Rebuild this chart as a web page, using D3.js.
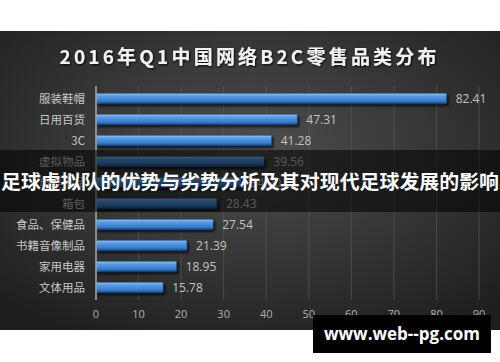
<!DOCTYPE html>
<html>
<head>
<meta charset="utf-8">
<script src="https://cdn.jsdelivr.net/npm/d3@7"></script>
<style>
  html, body { margin: 0; padding: 0; background: #fff; }
  svg { display: block; }
</style>
</head>
<body>
<svg id="chart"></svg>
<script>
const W = 500, H = 362;

const title = '2016年Q1中国网络B2C零售品类分布';
const categories = ['服装鞋帽', '日用百货', '3C', '虚拟物品', '母婴用品', '箱包', '食品、保健品', '书籍音像制品', '家用电器', '文体用品'];
const values = [82.41, 47.31, 41.28, 39.56, 34.2, 28.43, 27.54, 21.39, 18.95, 15.78];
const ticks = [0, 10, 20, 30, 40, 50, 60, 70, 80, 90];
const bannerText = '足球虚拟队的优势与劣势分析及其对现代足球发展的影响';
const watermark = 'www.web--pg.com';

const rows = categories.map((c, i) => ({ cat: c, val: values[i] }));

const svg = d3.select('#chart').attr('width', W).attr('height', H);
const defs = svg.append('defs');

// panel background
const bg = defs.append('radialGradient').attr('id', 'bg')
	.attr('cx', '0.5').attr('cy', '0.4').attr('r', '0.7');
bg.append('stop').attr('offset', '0%').attr('stop-color', '#4f4f4f');
bg.append('stop').attr('offset', '100%').attr('stop-color', '#1f1f1f');

const barGrad = defs.append('linearGradient').attr('id', 'bar')
	.attr('x1', 0).attr('y1', 0).attr('x2', 0).attr('y2', 1);
barGrad.append('stop').attr('offset', '0%').attr('stop-color', '#9cc8f4');
barGrad.append('stop').attr('offset', '25%').attr('stop-color', '#5a9ee6');
barGrad.append('stop').attr('offset', '70%').attr('stop-color', '#3b7fce');
barGrad.append('stop').attr('offset', '100%').attr('stop-color', '#1d4a86');

const shadow = defs.append('filter').attr('id', 'shadow')
	.attr('x', '-10%').attr('y', '-50%').attr('width', '130%').attr('height', '250%');
shadow.append('feDropShadow').attr('dx', 1.5).attr('dy', 2).attr('stdDeviation', 1.2)
	.attr('flood-color', '#000').attr('flood-opacity', 0.8);

const glow = defs.append('filter').attr('id', 'glow');
glow.append('feDropShadow').attr('dx', 1).attr('dy', 1).attr('stdDeviation', 1)
	.attr('flood-color', '#000').attr('flood-opacity', 0.9);

svg.append('rect')
	.attr('x', 0).attr('y', 31).attr('width', W).attr('height', 299)
	.attr('fill', 'url(#bg)');

svg.append('text')
	.attr('x', 248).attr('y', 64)
	.attr('text-anchor', 'middle')
	.attr('font-family', '"Noto Sans CJK SC", "Noto Sans", sans-serif')
	.attr('font-weight', 700)
	.attr('font-size', 19)
	.attr('textLength', 377)
	.attr('lengthAdjust', 'spacing')
	.attr('fill', '#f2f2f2')
	.attr('filter', 'url(#glow)')
	.text(title);

const x = d3.scaleLinear().domain([0, 90]).range([96, 479]);
const y = d3.scaleBand().domain(categories).range([88, 298]).paddingInner(0.5).paddingOuter(0.25);

// gridlines
svg.append('g').selectAll('line').data(ticks.slice(1)).join('line')
	.attr('x1', d => x(d)).attr('x2', d => x(d))
	.attr('y1', 86).attr('y2', 300)
	.attr('stroke', '#5e5e5e').attr('stroke-opacity', 0.6).attr('stroke-width', 1);

// bars
const bars = svg.append('g');
bars.selectAll('rect').data(rows).join('rect')
	.attr('x', x(0)).attr('y', d => y(d.cat))
	.attr('width', d => x(d.val) - x(0))
	.attr('height', y.bandwidth())
	.attr('rx', 1)
	.attr('fill', 'url(#bar)')
	.attr('stroke', '#1a3f70').attr('stroke-width', 0.6)
	.attr('filter', 'url(#shadow)');

// axis line
svg.append('line')
	.attr('x1', x(0)).attr('x2', x(0)).attr('y1', 86).attr('y2', 300)
	.attr('stroke', '#a8a8a8').attr('stroke-width', 1.5);

// category labels
svg.append('g').selectAll('text').data(rows).join('text')
	.attr('x', 85).attr('y', d => y(d.cat) + y.bandwidth() / 2)
	.attr('dy', '0.36em')
	.attr('text-anchor', 'end')
	.attr('font-family', '"Noto Sans CJK SC", sans-serif')
	.attr('font-size', 11.5)
	.attr('fill', '#c8c8c8')
	.text(d => d.cat);

// value labels
svg.append('g').selectAll('text').data(rows).join('text')
	.attr('x', d => x(d.val) + 9).attr('y', d => y(d.cat) + y.bandwidth() / 2)
	.attr('dy', '0.36em')
	.attr('font-family', '"Open Sans", "DejaVu Sans", sans-serif')
	.attr('font-size', 12)
	.attr('fill', '#c4c4c4')
	.text(d => d.val.toFixed(2));

// x tick labels
svg.append('g').selectAll('text').data(ticks).join('text')
	.attr('x', d => x(d)).attr('y', 314)
	.attr('dy', '0.36em')
	.attr('text-anchor', 'middle')
	.attr('font-family', '"Open Sans", "DejaVu Sans", sans-serif')
	.attr('font-size', 11)
	.attr('fill', '#b0b0b0')
	.text(d => d);

// overlay banner
svg.append('rect')
	.attr('x', 0).attr('y', 150).attr('width', W).attr('height', 62)
	.attr('fill', '#000').attr('fill-opacity', 0.55);
svg.append('text')
	.attr('x', W / 2).attr('y', 182)
	.attr('dy', '0.36em')
	.attr('text-anchor', 'middle')
	.attr('font-family', '"Noto Sans CJK SC", sans-serif')
	.attr('font-weight', 700)
	.attr('font-size', 19.8)
	.attr('textLength', 498)
	.attr('lengthAdjust', 'spacingAndGlyphs')
	.attr('fill', '#fff')
	.text(bannerText);

// watermark
svg.append('rect')
	.attr('x', 313).attr('y', 315).attr('width', 178).attr('height', 38)
	.attr('fill', '#000');
svg.append('text')
	.attr('x', 402).attr('y', 334)
	.attr('dy', '0.36em')
	.attr('text-anchor', 'middle')
	.attr('font-family', '"Open Sans", "DejaVu Sans", sans-serif')
	.attr('font-weight', 700)
	.attr('font-size', 17)
	.attr('fill', '#fff')
	.text(watermark);
</script>
</body>
</html>
